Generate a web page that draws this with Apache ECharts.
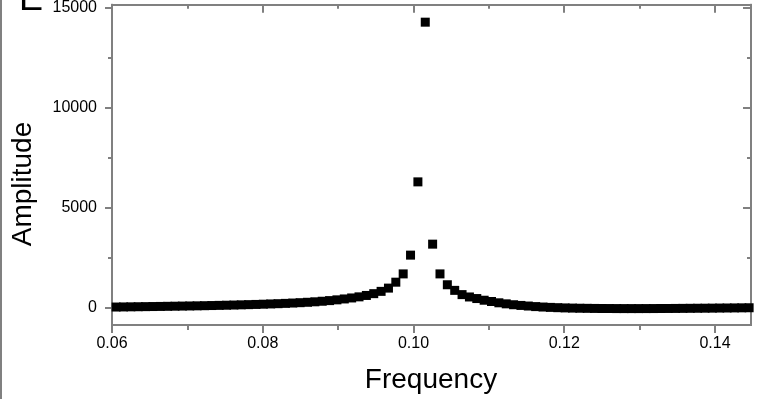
<!DOCTYPE html>
<html>
<head>
<meta charset="utf-8">
<script src="https://cdn.jsdelivr.net/npm/echarts@6/dist/echarts.min.js"></script>
<style>
  html, body { margin: 0; padding: 0; background: #fff; }
  #chart { width: 776px; height: 399px; }
</style>
</head>
<body>
<div id="chart"></div>
<script>
var frequency = [
  0.060547, 0.061523, 0.0625, 0.063477, 0.064453, 0.06543, 0.066406, 0.067383, 0.068359, 0.069336,
  0.070313, 0.071289, 0.072266, 0.073242, 0.074219, 0.075195, 0.076172, 0.077148, 0.078125, 0.079102,
  0.080078, 0.081055, 0.082031, 0.083008, 0.083984, 0.084961, 0.085938, 0.086914, 0.087891, 0.088867,
  0.089844, 0.09082, 0.091797, 0.092773, 0.09375, 0.094727, 0.095703, 0.09668, 0.097656, 0.098633,
  0.099609, 0.100586, 0.101563, 0.102539, 0.103516, 0.104492, 0.105469, 0.106445, 0.107422, 0.108398,
  0.109375, 0.110352, 0.111328, 0.112305, 0.113281, 0.114258, 0.115234, 0.116211, 0.117188, 0.118164,
  0.119141, 0.120117, 0.121094, 0.12207, 0.123047, 0.124023, 0.125, 0.125977, 0.126953, 0.12793,
  0.128906, 0.129883, 0.130859, 0.131836, 0.132813, 0.133789, 0.134766, 0.135742, 0.136719, 0.137695,
  0.138672, 0.139648, 0.140625, 0.141602, 0.142578, 0.143555, 0.144531
];
var amplitude = [
  20, 25, 30, 35, 40, 45, 50, 56, 62, 68,
  74, 80, 87, 95, 103, 111, 120, 130, 140, 150,
  162, 175, 188, 203, 220, 238, 258, 282, 310, 342,
  380, 425, 475, 530, 600, 690, 805, 968, 1265, 1680,
  2620, 6290, 14290, 3170, 1680, 1136, 855, 642, 524, 445,
  361, 296, 232, 180, 135, 100, 70, 42, 20, 2,
  -12, -24, -33, -40, -45, -50, -53, -55, -57, -58,
  -58, -58, -57, -56, -54, -52, -50, -47, -44, -41,
  -38, -35, -31, -28, -24, -20, -16
];
var xMajor = [0.06, 0.08, 0.10, 0.12, 0.14];
var xMinor = [0.07, 0.09, 0.11, 0.13];
var yMajor = [0, 5000, 10000, 15000];
var yMinor = [2500, 7500, 12500];

var dom = document.getElementById("chart");
var myChart = echarts.init(dom, null, { renderer: "canvas" });

var axisGray = "#808080";
var font = "'Liberation Sans', Arial, sans-serif";

function xAx(pos, ticks, len, inside, labels) {
  return {
    type: "value",
    position: pos,
    min: 0.06,
    max: 0.14478,
    axisLine: { show: true, onZero: false, lineStyle: { color: axisGray, width: 2 } },
    axisTick: { show: true, inside: inside, length: len, customValues: ticks, lineStyle: { color: axisGray, width: 2 } },
    axisLabel: labels ? {
      show: true, customValues: ticks, margin: 11, color: "#000", fontSize: 16, fontFamily: font,
      formatter: function (v) { return v.toFixed(2); }
    } : { show: false },
    splitLine: { show: false }
  };
}
function yAx(pos, ticks, len, inside, labels) {
  return {
    type: "value",
    position: pos,
    min: -880,
    max: 15165,
    axisLine: { show: true, onZero: false, lineStyle: { color: axisGray, width: 2 } },
    axisTick: { show: true, inside: inside, length: len, customValues: ticks, lineStyle: { color: axisGray, width: 2 } },
    axisLabel: labels ? {
      show: true, customValues: ticks, margin: 15, color: "#000", fontSize: 16, fontFamily: font,
      formatter: function (v) { return String(Math.round(v)); }
    } : { show: false },
    splitLine: { show: false }
  };
}

var option = {
  animation: false,
  grid: { left: 112, right: 25, top: 2, bottom: 74, containLabel: false },
  xAxis: [
    xAx("bottom", xMajor, 8, false, true),
    xAx("bottom", xMinor, 5, false, false),
    xAx("top", xMajor, 8, true, false),
    xAx("top", xMinor, 4, true, false)
  ],
  yAxis: [
    yAx("left", yMajor, 7, false, true),
    yAx("left", yMinor, 4, false, false),
    yAx("right", yMajor, 8, true, false),
    yAx("right", yMinor, 4, true, false)
  ],
  series: [
    {
      type: "scatter",
      xAxisIndex: 0,
      yAxisIndex: 0,
      symbol: "rect",
      symbolSize: 9,
      clip: true,
      itemStyle: { color: "#000", opacity: 1 },
      emphasis: { disabled: true },
      data: frequency.map(function (f, i) { return [f, amplitude[i]]; })
    }
  ],
  graphic: [
    {
      type: "line",
      shape: { x1: 1, y1: 0, x2: 1, y2: 399 },
      style: { stroke: axisGray, lineWidth: 2 }
    },
    {
      type: "text",
      x: 431,
      y: 380,
      style: { text: "Frequency", font: "28px " + font, fill: "#000", textAlign: "center", textVerticalAlign: "middle" }
    },
    {
      type: "text",
      x: 23,
      y: 184,
      rotation: Math.PI / 2,
      style: { text: "Amplitude", font: "28px " + font, fill: "#000", textAlign: "center", textVerticalAlign: "middle" }
    },
    {
      type: "text",
      x: 19,
      y: 0,
      style: { text: "E", font: "36px " + font, fill: "#000", textAlign: "left", textVerticalAlign: "middle" }
    }
  ]
};

myChart.setOption(option);
window.addEventListener("resize", myChart.resize);
</script>
</body>
</html>
